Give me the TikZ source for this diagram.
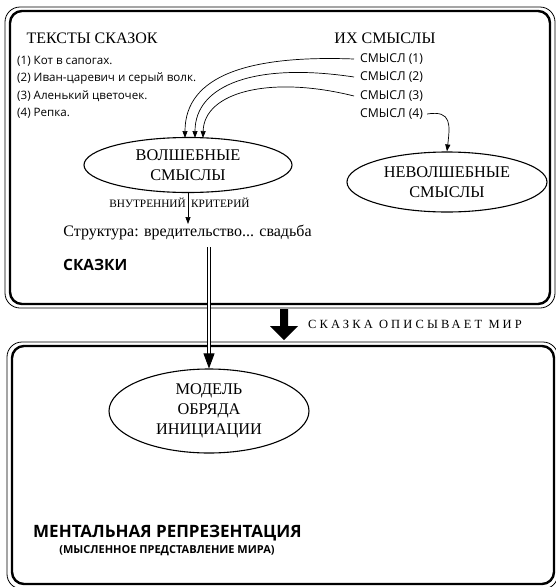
\documentclass[tikz,border=0pt]{standalone}
\usepackage{fontspec}
\setmainfont{Liberation Serif}
\newfontfamily\sansf{Open Sans}
\usetikzlibrary{shapes.geometric,arrows.meta}
\tikzset{
  head/.style={inner sep=0pt,font=\fontsize{16}{18}\selectfont},
  item/.style={inner sep=0pt,anchor=west,font=\sansf\fontsize{11.6}{13}\selectfont},
  smysl/.style={inner sep=0pt,anchor=west,font=\sansf\fontsize{12.2}{14}\selectfont},
  oval/.style={draw,ellipse,line width=1.1pt,inner sep=0pt,align=center,font=\fontsize{16.3}{20}\selectfont},
  thinb/.style={line width=0.8pt,rounded corners=15pt},
  thickb/.style={line width=2.4pt,rounded corners=12pt},
  cur/.style={line width=0.7pt,-{Triangle[length=7pt,width=5pt]}},
  crit/.style={inner sep=0pt,font=\fontsize{11.3}{13}\selectfont},
  bold/.style={inner sep=0pt,anchor=west,font=\sansf\bfseries\fontsize{15.5}{17}\selectfont}
}
\begin{document}
\begin{tikzpicture}[x=1pt,y=-1pt]
\useasboundingbox (0,0) rectangle (556,587);
% boxes
\draw[thinb] (5,7) rectangle (555,308);
\draw[thickb] (10,11) rectangle (550,304);
\draw[thinb] (7,342) rectangle (558,589);
\draw[thickb] (12,346) rectangle (554,584);
% headings
\node[head] (tt) at (92,38) {ТЕКСТЫ СКАЗОК};
\node[head] (ih) at (385,38) {ИХ СМЫСЛЫ};
% lists
\node[item] (t1) at (17,61) {(1) Кот в сапогах.};
\node[item] (t2) at (17,79) {(2) Иван-царевич и серый волк.};
\node[item] (t3) at (17,96) {(3) Аленький цветочек.};
\node[item] (t4) at (17,113) {(4) Репка.};
\node[smysl] (s1) at (360,59) {СМЫСЛ (1)};
\node[smysl] (s2) at (360,77) {СМЫСЛ (2)};
\node[smysl] (s3) at (360,96) {СМЫСЛ (3)};
\node[smysl] (s4) at (360,114) {СМЫСЛ (4)};
% ellipses
\node[oval,minimum width=208pt,minimum height=55pt] (vol) at (188,165) {ВОЛШЕБНЫЕ\\СМЫСЛЫ};
\node[oval,minimum width=200pt,minimum height=60pt] (nevol) at (447,182) {НЕВОЛШЕБНЫЕ\\СМЫСЛЫ};
\node[oval,minimum width=200pt,minimum height=84pt] (model) at (209,411) {МОДЕЛЬ\\ОБРЯДА\\ИНИЦИАЦИИ};
% curved arrows
\coordinate (e1) at (185,138);
\coordinate (e2) at (195,138);
\coordinate (e3) at (203,138);
\draw[cur] ([xshift=-6pt]s1.west) .. controls (250,55) and (185,75) .. (e1);
\draw[cur] ([xshift=-6pt]s2.west) .. controls (255,62) and (195,85) .. (e2);
\draw[cur] ([xshift=-6pt]s3.west) .. controls (270,75) and (204,92) .. (e3);
\draw[cur] ([xshift=4pt]s4.east) .. controls (452,110) and (450,125) .. (nevol.north);
% criterion
\node[crit,anchor=east] (c1) at (186,203) {ВНУТРЕННИЙ};
\node[crit,anchor=west] (c2) at (191,203) {КРИТЕРИЙ};
\node[inner sep=0pt,font=\fontsize{16}{18}\selectfont] (struct) at (187.5,232) {Структура: вредительство... свадьба};
\draw[line width=0.7pt,-{Triangle[length=7pt,width=5pt]}] (vol.south) -- (vol.south |- 0,224);
\node[bold] (skazki) at (63,265) {СКАЗКИ};
% big arrow
\fill (280,309) -- (288,309) -- (288,326) -- (298,326) -- (284,340) -- (270,326) -- (280,326) -- cycle;
\node[inner sep=0pt,anchor=west,font=\fontsize{12.5}{14}\selectfont\addfontfeatures{LetterSpace=25}] (opis) at (308,324) {СКАЗКА ОПИСЫВАЕТ МИР};
% double arrow
\coordinate (dtop) at (209,247);
\coordinate (dmid) at (209,356);
\draw[double,double distance=2.3pt,line width=0.8pt] (dtop) -- (dmid);
\draw[line width=0.8pt,-{Triangle[length=15pt,width=11pt]}] ([yshift=-1pt]dmid) -- (model.north);
% bottom texts
\node[bold,font=\sansf\bfseries\fontsize{17}{20}\selectfont] (ment) at (33,533) {МЕНТАЛЬНАЯ РЕПРЕЗЕНТАЦИЯ};
\node[inner sep=0pt,font=\sansf\bfseries\fontsize{11}{13}\selectfont] (mysl) at (167,551) {(МЫСЛЕННОЕ ПРЕДСТАВЛЕНИЕ МИРА)};
\end{tikzpicture}
\end{document}
